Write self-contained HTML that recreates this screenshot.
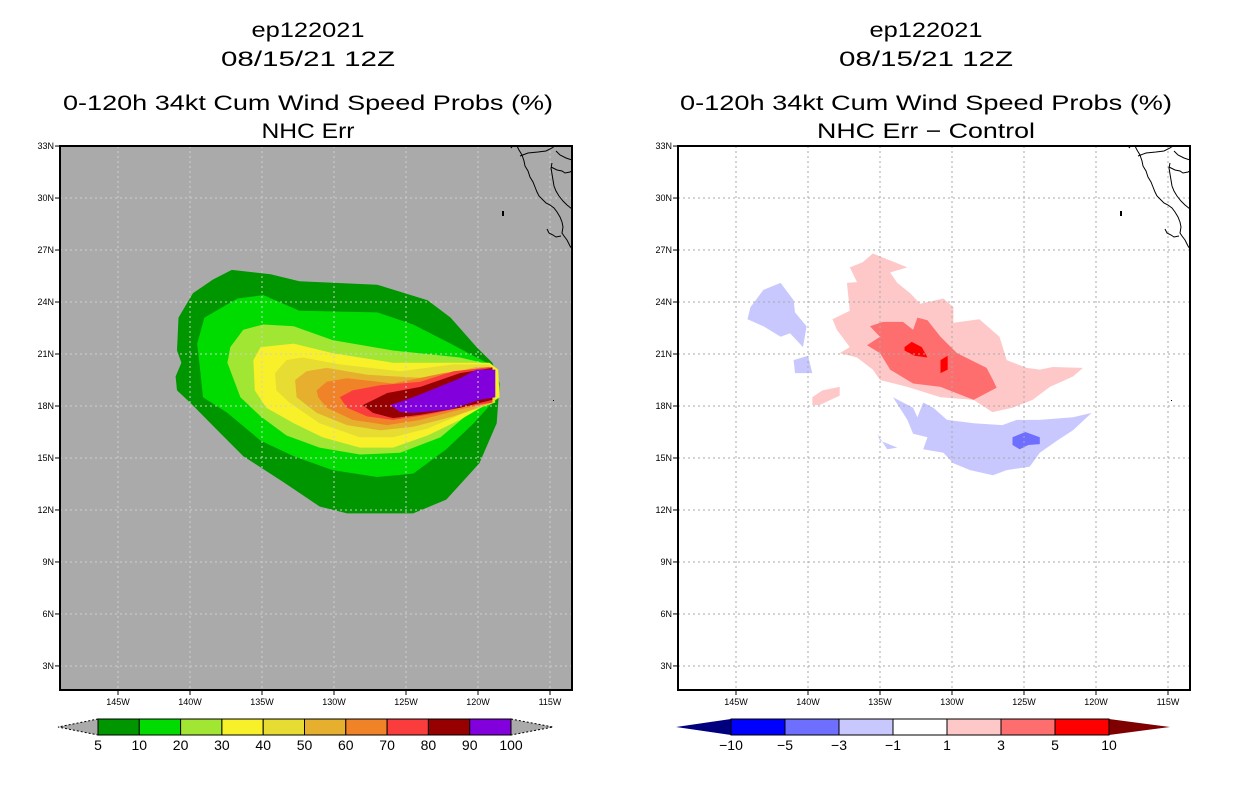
<!DOCTYPE html>
<html><head><meta charset="utf-8"><style>
html,body{margin:0;padding:0;background:#fff;}
svg{display:block;font-family:"Liberation Sans",sans-serif;}
</style></head><body>
<svg id="chart" width="1236" height="800" viewBox="0 0 1236 800">
<defs>
<clipPath id="clipL"><rect x="60" y="146" width="512" height="544"/></clipPath>
<clipPath id="clipR"><rect x="678" y="146" width="512" height="544"/></clipPath>
</defs>
<g font-size="21" text-anchor="middle" fill="#000">
<text x="308" y="37" textLength="113" lengthAdjust="spacingAndGlyphs">ep122021</text>
<text x="308" y="66" textLength="174" lengthAdjust="spacingAndGlyphs">08/15/21 12Z</text>
<text x="308" y="110" textLength="490" lengthAdjust="spacingAndGlyphs">0-120h 34kt Cum Wind Speed Probs (%)</text>
<text x="308" y="138" textLength="93" lengthAdjust="spacingAndGlyphs">NHC Err</text>
</g>
<g font-size="21" text-anchor="middle" fill="#000">
<text x="926" y="37" textLength="113" lengthAdjust="spacingAndGlyphs">ep122021</text>
<text x="926" y="66" textLength="174" lengthAdjust="spacingAndGlyphs">08/15/21 12Z</text>
<text x="926" y="110" textLength="492" lengthAdjust="spacingAndGlyphs">0-120h 34kt Cum Wind Speed Probs (%)</text>
<text x="926" y="138" textLength="218" lengthAdjust="spacingAndGlyphs">NHC Err − Control</text>
</g>
<g id="panelL"></g>
<g id="panelR"></g>
<g id="cbarL"></g>
<g id="cbarR"></g>
</svg>
<script>
// ---- data ----
const lonTicks = [145,140,135,130,125,120,115];
const latTicks = [3,6,9,12,15,18,21,24,27,30,33];
const probLevels = [5,10,20,30,40,50,60,70,80,90,100];
const probColors = ["#009600","#00dc00","#a0e632","#f8f028","#e6dc32","#e6af2d","#f08228","#fa3c3c","#960000","#8200dc"];
// contour polygons [lonW, latN]
const prob5 = [[137.1,25.85],[134.4,25.6],[132.4,25.2],[127.0,25.0],[123.5,24.1],[121.9,23.1],[120.1,21.4],[119.0,20.5],[118.5,19.3],[118.7,17.0],[119.9,14.7],[122.2,12.6],[124.5,11.8],[129.1,11.8],[131.0,12.2],[133.5,13.6],[136.3,15.1],[138.1,16.6],[140.0,18.2],[140.9,18.9],[141.0,19.7],[140.6,20.5],[140.9,21.2],[140.8,23.1],[139.8,24.5],[138.4,25.3]];
const prob10 = [[139.0,23.1],[136.7,24.2],[134.9,24.4],[132.4,23.5],[127.0,23.4],[124.5,22.7],[121.9,21.6],[120.1,20.8],[118.8,20.25],[118.5,18.9],[119.0,18.2],[120.3,17.0],[122.2,15.5],[124.5,14.1],[127.0,13.9],[130.1,14.3],[132.8,15.1],[135.1,16.0],[137.4,17.6],[139.1,18.5],[139.3,20.1],[139.5,21.6]];
const prob20 = [[137.2,21.4],[136.3,22.4],[134.9,22.7],[132.8,22.6],[130.1,21.8],[125.9,21.2],[121.25,20.8],[119.2,20.4],[118.7,19.9],[118.5,18.5],[119.0,18.2],[120.6,17.6],[122.6,16.2],[125.4,15.3],[128.2,15.2],[131.0,15.6],[133.3,16.3],[135.1,17.4],[136.5,18.5],[137.4,20.5]];
const prob30 = [[135.6,20.65],[135.1,21.4],[132.8,21.6],[130.1,21.05],[125.9,20.5],[121.7,20.5],[119.2,20.5],[118.6,20.1],[118.5,18.5],[119.2,18.2],[121.25,17.2],[123.5,16.3],[125.9,15.6],[128.2,15.6],[130.8,16.2],[132.8,17.0],[134.7,17.9],[135.5,18.9]];
const prob40 = [[134.1,19.9],[133.3,20.65],[132.2,20.8],[129.6,20.4],[125.4,20.0],[121.7,20.4],[119.2,20.4],[118.8,18.2],[121.25,17.5],[123.5,16.7],[125.9,16.2],[128.2,16.2],[131.0,17.0],[133.1,18.2],[134.0,18.9]];
const prob50 = [[132.7,19.5],[131.9,20.0],[130.5,20.2],[127.7,19.8],[123.5,19.6],[120.1,20.25],[119.2,20.25],[119.0,18.2],[121.7,17.4],[124.5,16.8],[126.8,16.6],[129.1,16.9],[131.2,17.6],[132.6,18.5]];
const prob60 = [[131.2,18.9],[130.5,19.4],[129.1,19.6],[125.9,19.3],[122.4,19.9],[119.2,20.25],[119.0,18.2],[121.25,17.8],[124.0,17.2],[126.3,16.9],[128.7,17.2],[130.5,17.9],[131.1,18.5]];
const prob70 = [[129.6,18.5],[128.7,18.9],[126.8,19.2],[124.0,19.4],[121.7,20.0],[119.0,20.25],[119.0,18.2],[121.25,17.9],[123.5,17.5],[125.9,17.2],[127.7,17.4],[129.1,17.9]];
const prob80 = [[128.0,18.05],[126.3,18.75],[124.0,19.1],[121.25,19.9],[119.0,20.2],[119.0,18.35],[121.25,17.9],[124.0,17.5],[125.9,17.3],[127.3,17.6]];
const prob90 = [[126.1,18.05],[124.5,18.5],[121.25,19.6],[120.1,20.1],[118.8,20.1],[118.8,18.5],[119.9,18.35],[121.9,17.8],[124.5,17.6],[125.4,17.65]];
const diffLevels = [-10,-5,-3,-1,1,3,5,10];
const diffColors = ["#0000ff","#6e6eff","#c8c8ff","#ffffff","#ffc8c8","#ff6e6e","#ff0000"];
const pos1Main = [[138.3,23.0],[137.1,23.5],[137.3,25.1],[136.6,25.15],[137.1,26.0],[136.2,26.3],[135.5,26.8],[134.3,26.4],[133.1,26.0],[134.3,25.7],[133.8,25.1],[132.9,24.5],[132.2,23.9],[130.6,24.2],[129.9,23.7],[129.9,22.8],[128.1,23.0],[126.7,22.0],[126.2,20.65],[124.8,20.2],[123.9,20.1],[123.0,20.25],[120.9,20.2],[121.6,19.7],[123.2,19.1],[124.4,18.35],[125.8,17.9],[127.2,17.65],[128.5,18.35],[130.8,18.5],[133.1,19.1],[135.0,19.5],[135.5,20.1],[136.6,20.8],[137.8,21.05],[137.1,21.4],[138.0,22.4]];
const pos1Small = [[139.7,18.5],[139.0,18.9],[137.8,19.1],[137.8,18.6],[139.2,18.05],[139.7,18.05]];
const pos3 = [[135.9,21.5],[135.0,22.0],[135.7,22.6],[134.8,22.85],[133.4,22.85],[132.7,22.4],[132.4,23.1],[131.7,22.95],[130.8,22.0],[129.65,21.05],[127.6,20.2],[127.15,19.5],[126.9,19.05],[128.5,18.35],[130.8,19.1],[132.7,19.3],[134.3,20.1],[135.0,21.05]];
const pos5a = [[133.3,21.4],[132.8,21.7],[132.1,21.4],[131.7,20.8],[132.6,20.9],[133.3,21.2]];
const pos5b = [[130.8,20.65],[130.3,20.9],[130.3,20.1],[130.8,19.9]];
const neg1South = [[134.1,18.5],[132.7,17.9],[132.4,17.35],[132.0,18.2],[131.3,17.9],[130.35,17.2],[128.5,17.0],[126.5,16.9],[125.5,17.2],[123.9,17.2],[121.6,17.35],[120.3,17.6],[121.6,16.6],[122.7,16.0],[123.9,15.3],[124.6,14.5],[126.2,14.3],[127.15,14.0],[128.75,14.3],[129.9,14.7],[130.6,15.3],[132.0,15.5],[131.7,16.2],[132.7,16.4],[133.1,17.2]];
const neg1West = [[144.0,23.7],[143.1,24.7],[141.9,25.1],[141.0,24.1],[140.9,23.4],[140.1,22.6],[140.35,21.4],[141.25,22.2],[141.9,22.0],[143.1,22.6],[144.2,23.0]];
const neg1Dot = [[141.0,20.65],[140.0,20.9],[139.7,19.9],[140.9,19.9]];
const neg1Dot2 = [[135.2,16.4],[134.5,15.5],[133.8,15.6],[135.0,16.0]];
const neg3 = [[125.8,16.2],[124.9,16.5],[123.9,16.2],[123.9,15.8],[124.7,15.75],[125.3,15.5],[125.8,15.75]];

// ---- axes ----
const NS="http://www.w3.org/2000/svg";
const X=(lon,ox)=>ox+478-(lon-120)*14.4;
const Y=(lat)=>354-(lat-21)*17.33;
function mk(tag,attrs,parent){const e=document.createElementNS(NS,tag);for(const k in attrs)e.setAttribute(k,attrs[k]);parent.appendChild(e);return e;}
function poly(pts,ox,fill,parent,name){
  const p=mk('polygon',{points:pts.map(q=>X(q[0],ox).toFixed(1)+','+Y(q[1]).toFixed(1)).join(' '),fill:fill},parent);
  
  
}
const coast="M517,146 L519,150 L522,155 L524,161 L525,166 L528,171 L530,177 L533,182 L535,187 L537,192 L539,196 L543,200 L546,203 L550,205 L554,208 L557,212 L560,217 L562,222 L563,227 L562,233 L564,236 L567,240 L570,246 L572,249 M520,156 L528,153 L538,152 L546,151 L552,148 L555,146 M552,163 L551,168 L552,174 L553,180 L554,186 L556,191 L559,196 L563,201 L567,205 L572,209 M551,167 L557,170 L562,171 L565,173 L570,172 L572,171 M556,151 L560,155 L566,158 L572,160 M547,229 L549,233 L553,235 L556,237 L561,236 M510,146 L512,148";
function panel(g,ox,bg,gridCol,clip){
  const inner=mk('g',{'clip-path':'url(#'+clip+')'},g);
  mk('rect',{x:ox+60,y:146,width:512,height:544,fill:bg},inner);
  const layers=mk('g',{},inner);
  const grid=mk('g',{stroke:gridCol,'stroke-width':1,'stroke-dasharray':'2,3'},inner);
  
  
  lonTicks.forEach(l=>mk('line',{x1:X(l,ox),x2:X(l,ox),y1:146,y2:690},grid));
  latTicks.forEach(l=>mk('line',{x1:ox+60,x2:ox+572,y1:Y(l),y2:Y(l)},grid));
  const c=mk('path',{d:coast,fill:'none',stroke:'#000','stroke-width':1,transform:'translate('+ox+',0)'},inner);
  
  
  mk('rect',{x:ox+502,y:211,width:2,height:5,fill:'#000'},inner);
  mk('rect',{x:ox+553,y:400,width:1,height:1,fill:'#000'},inner);
  const fr=mk('rect',{x:ox+60,y:146,width:512,height:544,fill:'none',stroke:'#000','stroke-width':2},g);
  
  
  const ax=mk('g',{'font-size':9,fill:'#000'},g);
  
  
  lonTicks.forEach(l=>{mk('line',{x1:X(l,ox),x2:X(l,ox),y1:690,y2:695,stroke:'#000'},ax);
    const t=mk('text',{x:X(l,ox),y:705,'text-anchor':'middle'},ax);t.textContent=l+'W';});
  latTicks.forEach(l=>{mk('line',{x1:ox+55,x2:ox+60,y1:Y(l),y2:Y(l),stroke:'#000'},ax);
    const t=mk('text',{x:ox+54,y:Y(l)+3,'text-anchor':'end'},ax);t.textContent=l+'N';});
  return layers;
}
const L=panel(document.getElementById('panelL'),0,'#aaaaaa','#cfcfcf','clipL');
[prob5,prob10,prob20,prob30,prob40,prob50,prob60,prob70,prob80,prob90].forEach((p,i)=>poly(p,0,probColors[i],L,'prob-contour-'+probLevels[i]));
const R=panel(document.getElementById('panelR'),618,'#ffffff','#aaaaaa','clipR');
poly(pos1Main,618,diffColors[4],R,'diff-pos1-main');
poly(pos1Small,618,diffColors[4],R,'diff-pos1-small');
poly(neg1South,618,diffColors[2],R,'diff-neg1-south');
poly(neg1West,618,diffColors[2],R,'diff-neg1-west');
poly(neg1Dot,618,diffColors[2],R,'diff-neg1-dot');
poly(neg1Dot2,618,diffColors[2],R,'diff-neg1-dot2');
poly(pos3,618,diffColors[5],R,'diff-pos3');
poly(pos5a,618,diffColors[6],R,'diff-pos5a');
poly(pos5b,618,diffColors[6],R,'diff-pos5b');
poly(neg3,618,diffColors[1],R,'diff-neg3');

function cbar(g,x0,seg,levels,colors,lcol,rcol,dashed){
  const y0=719,h=16,n=colors.length,x1=x0+seg*n,tw=x0===98?40:55,tw2=x0===98?42:61;
  const a={fill:lcol};if(dashed){a.stroke='#000';a['stroke-dasharray']='2,2';a['stroke-width']=1;}
  mk('polygon',Object.assign({points:`${x0},${y0} ${x0-tw},${y0+h/2} ${x0},${y0+h}`},a),g);
  const b={fill:rcol};if(dashed){b.stroke='#000';b['stroke-dasharray']='2,2';b['stroke-width']=1;}
  mk('polygon',Object.assign({points:`${x1},${y0} ${x1+tw2},${y0+h/2} ${x1},${y0+h}`},b),g);
  colors.forEach((c,i)=>{const r=mk('rect',{x:x0+i*seg,y:y0,width:seg,height:h,fill:c,stroke:'#000','stroke-width':1},g);
    
    });
  levels.forEach((v,i)=>{const t=mk('text',{x:x0+i*seg,y:750,'text-anchor':'middle','font-size':14},g);t.textContent=String(v).replace('-','−');});
}
cbar(document.getElementById('cbarL'),98,41.3,probLevels,probColors,'#aaaaaa','#aaaaaa',true);
cbar(document.getElementById('cbarR'),731,54,diffLevels,diffColors,'#00007f','#7f0000',false);
</script>
</body></html>
